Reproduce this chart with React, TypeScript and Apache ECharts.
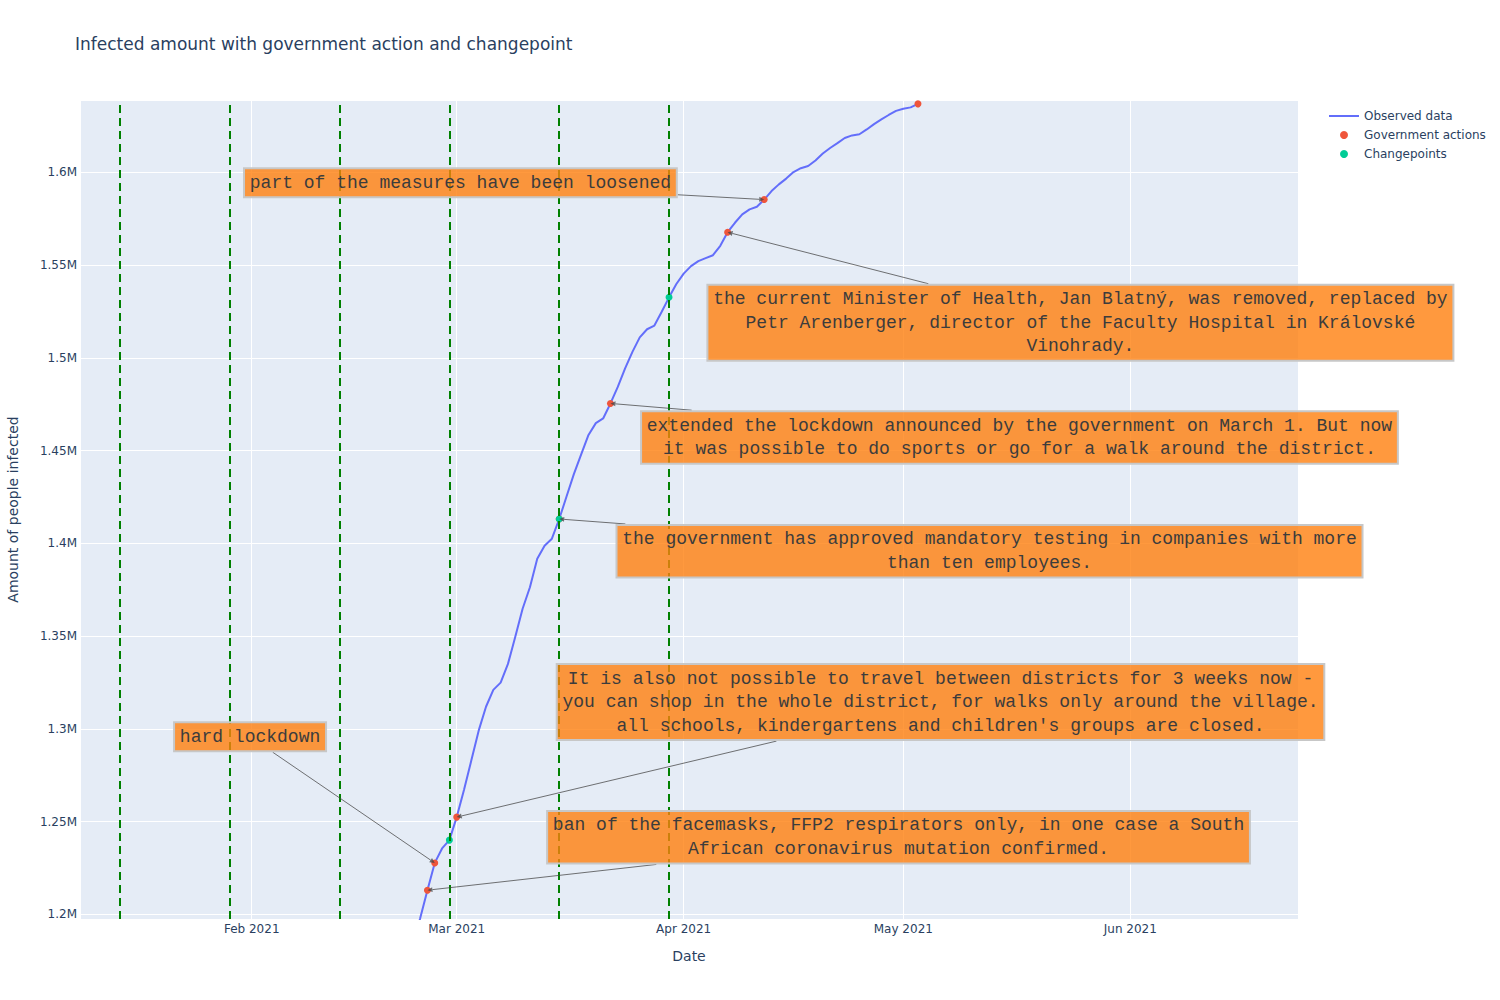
import React, { useEffect, useRef } from 'react';
import * as echarts from 'echarts';

// ---------------- data ----------------
const obsDates = [
  '2021-02-23', '2021-02-24', '2021-02-25', '2021-02-26', '2021-02-27', '2021-02-28',
  '2021-03-01', '2021-03-02', '2021-03-03', '2021-03-04', '2021-03-05', '2021-03-06', '2021-03-07',
  '2021-03-08', '2021-03-09', '2021-03-10', '2021-03-11', '2021-03-12', '2021-03-13', '2021-03-14',
  '2021-03-15', '2021-03-16', '2021-03-17', '2021-03-18', '2021-03-19', '2021-03-20', '2021-03-21',
  '2021-03-22', '2021-03-23', '2021-03-24', '2021-03-25', '2021-03-26', '2021-03-27', '2021-03-28',
  '2021-03-29', '2021-03-30', '2021-03-31', '2021-04-01', '2021-04-02', '2021-04-03', '2021-04-04',
  '2021-04-05', '2021-04-06', '2021-04-07', '2021-04-08', '2021-04-09', '2021-04-10', '2021-04-11',
  '2021-04-12', '2021-04-13', '2021-04-14', '2021-04-15', '2021-04-16', '2021-04-17', '2021-04-18',
  '2021-04-19', '2021-04-20', '2021-04-21', '2021-04-22', '2021-04-23', '2021-04-24', '2021-04-25',
  '2021-04-26', '2021-04-27', '2021-04-28', '2021-04-29', '2021-04-30', '2021-05-01', '2021-05-02',
  '2021-05-03',
];
const obsValues = [
  1183500, 1197700, 1213000, 1227700, 1235500, 1240000,
  1252400, 1267200, 1283000, 1299000, 1311900, 1321000, 1324900,
  1335000, 1349600, 1364700, 1376300, 1391700, 1398700, 1402500,
  1413100, 1425200, 1437300, 1447900, 1458400, 1464800, 1467300,
  1475400, 1484300, 1494300, 1503200, 1511000, 1515400, 1517400,
  1524800, 1532600, 1539800, 1545400, 1549400, 1552100, 1553700,
  1555300, 1560400, 1567700, 1572800, 1577300, 1580000, 1581400,
  1585300, 1589900, 1593500, 1596600, 1600100, 1602200, 1603400,
  1606400, 1610100, 1613100, 1615700, 1618500, 1619900, 1620500,
  1623100, 1626000, 1628500, 1630900, 1633100, 1634300, 1635000,
  1636900,
];
const govDates = ['2021-02-25', '2021-02-26', '2021-03-01', '2021-03-15', '2021-03-22', '2021-04-07', '2021-04-12', '2021-05-03'];
const changepointDates = ['2021-01-14', '2021-01-29', '2021-02-13', '2021-02-28', '2021-03-15', '2021-03-30'];
const annotDates = ['2021-02-26', '2021-02-25', '2021-03-01', '2021-03-15', '2021-03-22', '2021-04-07', '2021-04-12'];
const annotTexts = [
  'hard lockdown',
  'ban of the facemasks, FFP2 respirators only, in one case a South\nAfrican coronavirus mutation confirmed.',
  'It is also not possible to travel between districts for 3 weeks now -\nyou can shop in the whole district, for walks only around the village.\nall schools, kindergartens and children\'s groups are closed.',
  'the government has approved mandatory testing in companies with more\nthan ten employees.',
  'extended the lockdown announced by the government on March 1. But now\nit was possible to do sports or go for a walk around the district.',
  'the current Minister of Health, Jan Blatný, was removed, replaced by\nPetr Arenberger, director of the Faculty Hospital in Královské\nVinohrady.',
  'part of the measures have been loosened',
];
const monthNames = ['Jan', 'Feb', 'Mar', 'Apr', 'May', 'Jun', 'Jul', 'Aug', 'Sep', 'Oct', 'Nov', 'Dec'];
const yMin = 1197470;
const yMax = 1638980;

// ---------------- layout (pixel offsets of annotation boxes from their points) ----------------
const annotOffsets = [
  [-184.7, -126.2],
  [471.1, -53],
  [483.8, -115],
  [430.3, 32.2],
  [409, 34],
  [352.8, 90.5],
  [-303.8, -16.9],
];
const CHAR_W = 10.8;
const LINE_H = 23.5;
const PAD_X = 5.8;
const PAD_Y = 2.75;
const FONT = "'DejaVu Sans', Verdana, sans-serif";
const MONO = "'Liberation Mono', 'Courier New', monospace";
const TXT = '#2a3f5f';

function ts(s: string): number {
  const [y, m, d] = s.split('-').map(Number);
  return new Date(y, m - 1, d).getTime();
}
function valueAt(s: string): number | undefined {
  const i = obsDates.indexOf(s);
  return i >= 0 ? obsValues[i] : undefined;
}

export default function App() {
  const ref = useRef<HTMLDivElement>(null);
  useEffect(() => {
    if (!ref.current) return;
    const chart = echarts.init(ref.current, undefined, { renderer: 'svg' });

    const lineData = obsDates.map((d, i) => [ts(d), obsValues[i]]);
    const govData = govDates.filter((d) => valueAt(d) !== undefined).map((d) => [ts(d), valueAt(d)]);
    const cpData = changepointDates.filter((d) => valueAt(d) !== undefined).map((d) => [ts(d), valueAt(d)]);
    const annData = annotDates.map((d, i) => [ts(d), valueAt(d), i]);

    const option: any = {
      animation: false,
      textStyle: { fontFamily: FONT },
      title: {
        text: 'Infected amount with government action and changepoint',
        left: 75,
        top: 35,
        padding: 0,
        textStyle: { fontSize: 17, fontWeight: 'normal', color: TXT, fontFamily: FONT },
      },
      legend: {
        orient: 'vertical',
        left: 1328,
        top: 110,
        padding: 0,
        itemWidth: 30,
        itemHeight: 8,
        itemGap: 7,
        textStyle: { fontSize: 12, color: TXT, fontFamily: FONT },
        data: [
          { name: 'Observed data', itemStyle: { opacity: 0, borderWidth: 0 }, lineStyle: { width: 2, color: '#636efa' } },
          { name: 'Government actions', icon: 'circle' },
          { name: 'Changepoints', icon: 'circle' },
        ],
      },
      grid: {
        left: 80,
        right: 202,
        top: 100,
        bottom: 81,
        show: true,
        backgroundColor: '#E5ECF6',
        borderWidth: 0,
        containLabel: false,
        outerBoundsMode: 'none',
      },
      xAxis: {
        type: 'time',
        min: new Date(2021, 0, 8, 13, 8).getTime(),
        max: new Date(2021, 5, 23, 21, 45).getTime(),
        splitNumber: 6,
        name: 'Date',
        nameLocation: 'middle',
        nameGap: 30,
        nameTextStyle: { fontSize: 14, color: TXT, fontFamily: FONT },
        axisLine: { show: false },
        axisTick: { show: false },
        splitLine: { show: true, lineStyle: { color: '#ffffff', width: 1 } },
        axisLabel: {
          showMinLabel: false,
          showMaxLabel: false,
          fontSize: 12,
          color: TXT,
          margin: 4,
          formatter: (v: number) => {
            const d = new Date(v);
            return monthNames[d.getMonth()] + ' ' + d.getFullYear();
          },
        },
      },
      yAxis: {
        type: 'value',
        min: yMin,
        max: yMax,
        splitNumber: 9,
        name: 'Amount of people infected',
        nameLocation: 'middle',
        nameGap: 60,
        nameRotate: 90,
        nameTextStyle: { fontSize: 14, color: TXT, fontFamily: FONT },
        axisLine: { show: false },
        axisTick: { show: false },
        splitLine: { show: true, lineStyle: { color: '#ffffff', width: 1 } },
        axisLabel: {
          showMinLabel: false,
          showMaxLabel: false,
          fontSize: 12,
          color: TXT,
          margin: 3,
          formatter: (v: number) => parseFloat((v / 1e6).toFixed(3)) + 'M',
        },
      },
      series: [
        {
          name: 'Observed data',
          type: 'line',
          data: lineData,
          symbol: 'none',
          showSymbol: false,
          clip: true,
          lineStyle: { color: '#636efa', width: 2 },
          itemStyle: { color: '#636efa' },
          z: 2,
          markLine: {
            silent: true,
            symbol: ['none', 'none'],
            label: { show: false },
            lineStyle: { color: '#008000', width: 2, type: [8, 5] },
            data: changepointDates.map((d) => ({ xAxis: ts(d) })),
          },
        },
        {
          name: 'Government actions',
          type: 'scatter',
          data: govData,
          symbol: 'circle',
          symbolSize: 7,
          itemStyle: { color: '#EF553B', opacity: 1 },
          z: 3,
        },
        {
          name: 'Changepoints',
          type: 'scatter',
          data: cpData,
          symbol: 'circle',
          symbolSize: 7,
          itemStyle: { color: '#00cc96', opacity: 1 },
          z: 4,
        },
        {
          name: 'annotations',
          type: 'custom',
          coordinateSystem: 'cartesian2d',
          clip: false,
          silent: true,
          z: 20,
          data: annData,
          renderItem: (params: any, api: any) => {
            const i = api.value(2);
            const p = api.coord([api.value(0), api.value(1)]);
            const off = annotOffsets[i];
            const cx = p[0] + off[0];
            const cy = p[1] + off[1];
            const text = annotTexts[i];
            const lines = text.split('\n');
            const maxLen = Math.max(...lines.map((l) => l.length));
            const w = maxLen * CHAR_W + PAD_X * 2;
            const h = lines.length * LINE_H + PAD_Y * 2;
            const hw = w / 2 + 1;
            const hh = h / 2 + 1;
            const dx = p[0] - cx;
            const dy = p[1] - cy;
            const t = Math.min(dx ? hw / Math.abs(dx) : Infinity, dy ? hh / Math.abs(dy) : Infinity);
            const ex = cx + dx * t;
            const ey = cy + dy * t;
            const len = Math.hypot(p[0] - ex, p[1] - ey) || 1;
            const ux = (p[0] - ex) / len;
            const uy = (p[1] - ey) / len;
            const ah = 5;
            const aw = 2.5;
            const bx = p[0] - ux * ah;
            const by = p[1] - uy * ah;
            return {
              type: 'group',
              children: [
                {
                  type: 'line',
                  shape: { x1: ex, y1: ey, x2: bx, y2: by },
                  style: { stroke: 'rgba(68,68,68,0.75)', lineWidth: 1 },
                },
                {
                  type: 'polygon',
                  shape: {
                    points: [
                      [p[0], p[1]],
                      [bx - uy * aw, by + ux * aw],
                      [bx + uy * aw, by - ux * aw],
                    ],
                  },
                  style: { fill: 'rgba(68,68,68,0.75)' },
                },
                {
                  type: 'rect',
                  shape: { x: cx - w / 2, y: cy - h / 2, width: w, height: h },
                  style: { fill: 'rgba(255,127,14,0.8)', stroke: '#c7c7c7', lineWidth: 2 },
                },
                {
                  type: 'text',
                  x: cx,
                  y: cy,
                  style: {
                    text,
                    align: 'center',
                    verticalAlign: 'middle',
                    fontSize: 18,
                    fontFamily: MONO,
                    lineHeight: LINE_H,
                    fill: '#3c3c3c',
                  },
                },
              ],
            };
          },
        },
      ],
    };
    chart.setOption(option);
    return () => chart.dispose();
  }, []);
  return (
    <div
      ref={ref}
      style={{ position: 'fixed', left: 0, top: 0, width: 1500, height: 1000, background: '#ffffff' }}
    />
  );
}
